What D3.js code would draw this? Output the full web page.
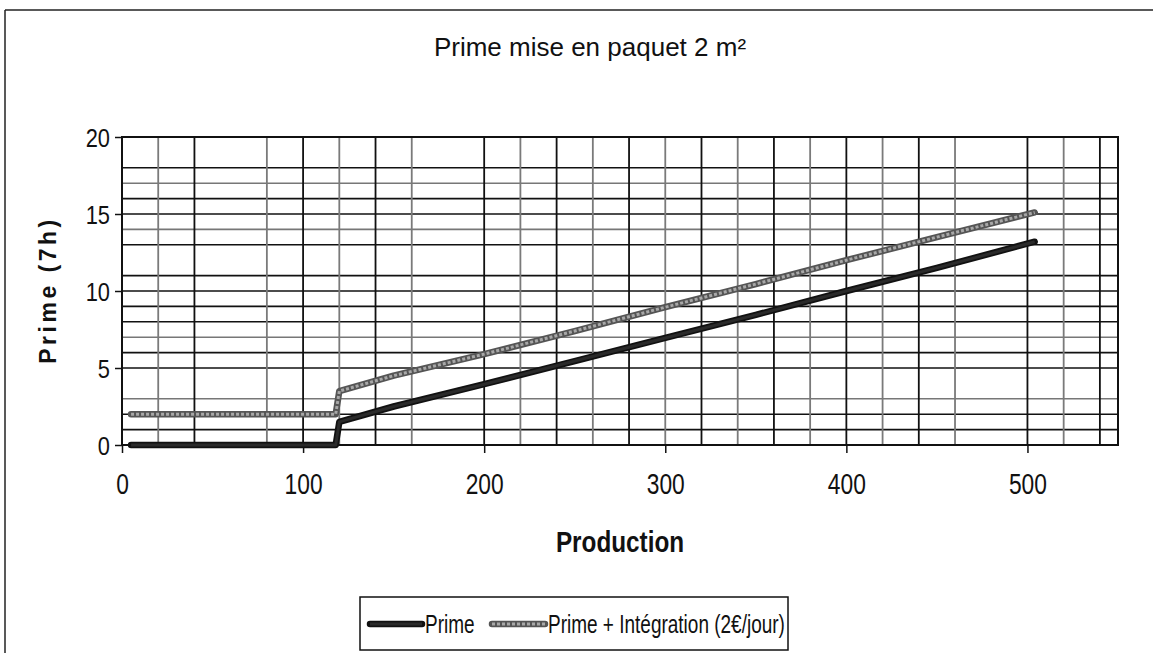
<!DOCTYPE html>
<html>
<head>
<meta charset="utf-8">
<script src="https://d3js.org/d3.v7.min.js"></script>
<style>
  body { margin: 0; background: #fff; }
  svg { display: block; }
  text { font-family: "Liberation Sans", Arial, sans-serif; fill: #111; }
</style>
</head>
<body>
<svg width="1153" height="653"></svg>
<script>
// values
const production = [5, 118, 120, 150, 200, 250, 300, 350, 400, 450, 504];
const prime = [0, 0, 1.5, 2.5, 3.95, 5.45, 6.95, 8.45, 10.0, 11.5, 13.2];
const primeIntegration = [2, 2, 3.5, 4.5, 5.9, 7.4, 8.95, 10.45, 12.0, 13.5, 15.1];
const xTicks = [0, 100, 200, 300, 400, 500];
const yTicks = [0, 5, 10, 15, 20];
// grid lines that survived in the scan
const xGrid = [20, 40, 80, 100, 120, 140, 160, 200, 220, 240, 260, 280, 300, 320, 340, 360, 380, 400, 420, 440, 460, 500, 520, 540];
const yGrid = [1, 2, 3, 5, 6, 7, 8, 9, 10, 11, 13, 14, 15, 16, 17, 18];
const seriesNames = ['Prime', 'Prime + Intégration (2€/jour)'];

const svg = d3.select('svg');
const plot = { left: 122, top: 137, right: 1118, bottom: 445 };

const x = d3.scaleLinear().domain([0, 550]).range([plot.left, plot.right]);
const y = d3.scaleLinear().domain([0, 20]).range([plot.bottom, plot.top]);

// outer chart frame (only top & left visible in the scan)
svg.append('line').attr('x1', 5).attr('x2', 1153).attr('y1', 10).attr('y2', 10)
  .attr('stroke', '#222').attr('stroke-width', 1.5);
svg.append('line').attr('x1', 5).attr('x2', 5).attr('y1', 10).attr('y2', 653)
  .attr('stroke', '#222').attr('stroke-width', 1.5);

svg.append('text')
  .attr('x', 590).attr('y', 56)
  .attr('text-anchor', 'middle')
  .attr('font-size', 26)
  .text('Prime mise en paquet 2 m²');

// grid
const grid = svg.append('g');
grid.selectAll('line.h').data(yGrid).enter().append('line')
  .attr('x1', plot.left).attr('x2', plot.right)
  .attr('y1', d => y(d)).attr('y2', d => y(d))
  .attr('stroke', (d, i) => (d % 5 === 0 || i % 3 !== 2) ? '#111' : '#777')
  .attr('stroke-width', 1.6);
grid.selectAll('line.v').data(xGrid).enter().append('line')
  .attr('y1', plot.top).attr('y2', plot.bottom)
  .attr('x1', d => x(d)).attr('x2', d => x(d))
  .attr('stroke', (d, i) => i % 2 ? '#111' : '#7a7a7a')
  .attr('stroke-width', 1.8);

// plot frame
svg.append('rect')
  .attr('x', plot.left).attr('y', plot.top)
  .attr('width', plot.right - plot.left).attr('height', plot.bottom - plot.top)
  .attr('fill', 'none').attr('stroke', '#111').attr('stroke-width', 2);

// axes
const xAxis = svg.append('g')
  .attr('transform', `translate(0,${plot.bottom})`)
  .call(d3.axisBottom(x).tickValues(xTicks).tickSize(8).tickPadding(22));
const yAxis = svg.append('g')
  .attr('transform', `translate(${plot.left},0)`)
  .call(d3.axisLeft(y).tickValues(yTicks).tickSize(7).tickPadding(5));
[xAxis, yAxis].forEach(a => {
  a.select('.domain').remove();
  a.selectAll('line').attr('stroke', '#111').attr('stroke-width', 1.5);
  a.selectAll('text').attr('fill', '#111')
    .attr('font-family', '"Liberation Sans", Arial, sans-serif');
});
xAxis.selectAll('text').attr('font-size', 30).attr('dy', '0.62em')
  .attr('transform', 'scale(0.76,1)');
yAxis.selectAll('text').attr('font-size', 26).attr('x', -12 / 0.84).attr('dy', '0.36em')
  .attr('transform', 'scale(0.84,1)');

svg.append('text')
  .attr('transform', 'translate(620,552) scale(0.81,1)')
  .attr('text-anchor', 'middle')
  .attr('font-size', 30).attr('font-weight', 'bold')
  .text('Production');

svg.append('text')
  .attr('transform', 'translate(56,290) rotate(-90)')
  .attr('text-anchor', 'middle')
  .attr('font-size', 23).attr('font-weight', 'bold')
  .attr('letter-spacing', 3.5)
  .text('Prime (7h)');

// series
const line = d3.line().x(d => x(d[0])).y(d => y(d[1]));
const series = [
  { name: seriesNames[0], values: d3.zip(production, prime), outer: '#111', inner: '#2a2a2a' },
  { name: seriesNames[1], values: d3.zip(production, primeIntegration), outer: '#555', inner: '#a8a8a8' }
];
series.forEach(s => {
  svg.append('path').datum(s.values).attr('d', line)
    .attr('fill', 'none').attr('stroke', s.outer).attr('stroke-width', 6.5)
    .attr('stroke-linejoin', 'round').attr('stroke-linecap', 'round');
  svg.append('path').datum(s.values).attr('d', line)
    .attr('fill', 'none').attr('stroke', s.inner).attr('stroke-width', 3)
    .attr('stroke-dasharray', s.inner === '#2a2a2a' ? null : '3,2')
    .attr('stroke-linejoin', 'round');
});

// legend
const legend = svg.append('g');
legend.append('rect')
  .attr('x', 360).attr('y', 597).attr('width', 428).attr('height', 53)
  .attr('fill', '#fff').attr('stroke', '#111').attr('stroke-width', 1.5);
const legendPos = [{ x: 370, w: 52 }, { x: 492, w: 53 }];
series.forEach((s, i) => {
  const p = legendPos[i];
  legend.append('line').attr('x1', p.x).attr('x2', p.x + p.w).attr('y1', 624).attr('y2', 624)
    .attr('stroke', s.outer).attr('stroke-width', 6.5).attr('stroke-linecap', 'round');
  legend.append('line').attr('x1', p.x).attr('x2', p.x + p.w).attr('y1', 624).attr('y2', 624)
    .attr('stroke', s.inner).attr('stroke-width', 3)
    .attr('stroke-dasharray', i ? '3,2' : null);
  legend.append('text')
    .attr('transform', `translate(${p.x + p.w + 3},633) scale(0.76,1)`)
    .attr('font-size', 25)
    .text(s.name);
});
</script>
</body>
</html>
